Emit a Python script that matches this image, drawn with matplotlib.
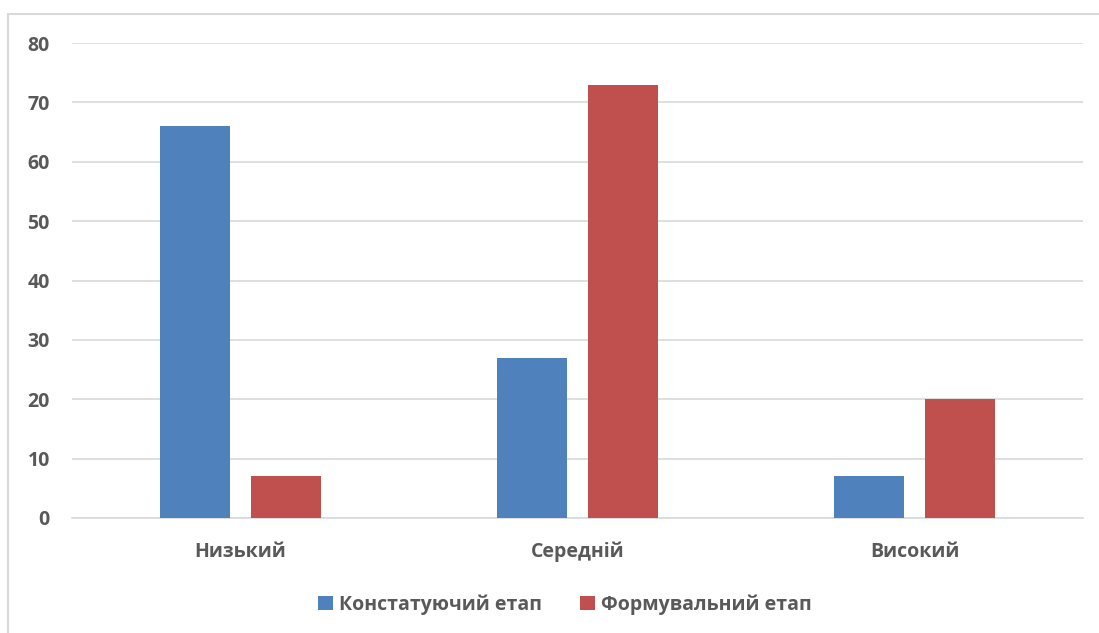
import matplotlib
matplotlib.use("Agg")
import matplotlib.pyplot as plt
from matplotlib.patches import Rectangle
import numpy as np

categories = ["Низький", "Середній", "Високий"]
series_names = ["Констатуючий етап", "Формувальний етап"]
konstatuiuchyi = [66, 27, 7]
formuvalnyi = [7, 73, 20]
y_ticks = [0, 10, 20, 30, 40, 50, 60, 70, 80]

blue = "#4F81BD"
red = "#C0504D"
text_color = "#595959"
grid_color = "#D9D9D9"

plt.rcParams["font.family"] = ["Open Sans", "DejaVu Sans"]
plt.rcParams["font.weight"] = "bold"

fig = plt.figure(figsize=(10.99, 6.33), dpi=100)
ax = fig.add_axes([0.0655, 0.1817, 0.92, 0.7503])

# chart frame
fig.patches.append(Rectangle((8 / 1099, -0.1), 1.2, 1.1 - 14 / 633,
                             transform=fig.transFigure, fill=False,
                             edgecolor=grid_color, linewidth=1.5))

x = np.arange(len(categories))
width = 0.21
offset = 0.135
ax.bar(x - offset, konstatuiuchyi, width, color=blue, label=series_names[0], zorder=3)
ax.bar(x + offset, formuvalnyi, width, color=red, label=series_names[1], zorder=3)

ax.set_xlim(-0.5, 2.5)
ax.set_ylim(0, 80)
ax.set_yticks(y_ticks)
ax.yaxis.grid(True, color=grid_color, linewidth=1.2, zorder=0)
ax.set_axisbelow(True)
for s in ["top", "right", "left"]:
    ax.spines[s].set_visible(False)
ax.spines["bottom"].set_color(grid_color)
ax.spines["bottom"].set_linewidth(1.2)
ax.tick_params(axis="both", length=0, labelsize=14, labelcolor=text_color)
ax.tick_params(axis="y", pad=16)
ax.tick_params(axis="x", pad=17)
ax.set_xticks(x)
ax.set_xticklabels(categories, fontweight="bold")
for lbl in ax.get_yticklabels():
    lbl.set_fontweight("bold")

leg = fig.legend(loc="center", bbox_to_anchor=(0.514, 0.045), ncol=2, frameon=False,
                 fontsize=14, handlelength=0.75, handleheight=0.75, handletextpad=0.3,
                 columnspacing=2.0)
for t in leg.get_texts():
    t.set_color(text_color)
    t.set_fontweight("bold")

fig.savefig("out.png", dpi=100)
